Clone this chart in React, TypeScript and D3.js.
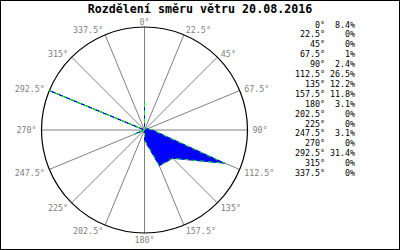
import React from "react";
import * as d3 from "d3";

const TITLE = "Rozdělení směru větru 20.08.2016";
const directions = [0, 22.5, 45, 67.5, 90, 112.5, 135, 157.5, 180, 202.5, 225, 247.5, 270, 292.5, 315, 337.5];
const directionLabels = ["0°", "22.5°", "45°", "67.5°", "90°", "112.5°", "135°", "157.5°", "180°", "202.5°", "225°", "247.5°", "270°", "292.5°", "315°", "337.5°"];
const values = [8.4, 0, 0, 1, 2.4, 26.5, 12.2, 11.8, 3.1, 0, 0, 3.1, 0, 31.4, 0, 0];
const valueLabels = ["8.4%", "0%", "0%", "1%", "2.4%", "26.5%", "12.2%", "11.8%", "3.1%", "0%", "0%", "3.1%", "0%", "31.4%", "0%", "0%"];

const W = 400;
const H = 250;
const CX = 144.5;
const CY = 130;
const R = 103;

export default function App() {
  const rad = (d: number) => (d * Math.PI) / 180;
  const r = d3.scaleLinear().domain([0, d3.max(values) as number]).range([0, R]);
  const line = d3
    .lineRadial<number>()
    .angle((_, i) => rad(directions[i]))
    .radius((v) => r(v))
    .curve(d3.curveLinearClosed);
  const path = line(values) || "";
  const legendY = d3.scalePoint<number>().domain(d3.range(directions.length)).range([24.5, 173]);
  const mono = "'DejaVu Sans Mono', 'Liberation Mono', monospace";

  return (
    <svg
      width={W}
      height={H}
      viewBox={`0 0 ${W} ${H}`}
      style={{ position: "absolute", left: 0, top: 0, background: "#fff" }}
    >
      <rect x={0.5} y={0.5} width={W - 1} height={H - 1} fill="#fff" stroke="#000" strokeWidth={1} />
      <text x={200} y={13} textAnchor="middle" fontFamily={mono} fontWeight="bold" fontSize={11.67} fill="#000">
        {TITLE}
      </text>
      <g transform={`translate(${CX},${CY})`}>
        {directions.map((d, i) => (
          <line
            key={"g" + i}
            x1={0}
            y1={0}
            x2={R * Math.sin(rad(d))}
            y2={-R * Math.cos(rad(d))}
            stroke="#808080"
            strokeWidth={1}
          />
        ))}
        <circle r={R} fill="none" stroke="#000" strokeWidth={1.2} />
        <path d={path} fill="#0000ff" stroke="#0000ff" strokeWidth={1} strokeLinejoin="miter" />
        <path d={path} fill="none" stroke="#00ff00" strokeWidth={1} strokeDasharray="4 4" />
        {directions.map((d, i) => {
          const s = Math.sin(rad(d));
          const c = Math.cos(rad(d));
          const anchor = s > 0.01 ? "start" : s < -0.01 ? "end" : "middle";
          const rr = R + 5;
          return (
            <text
              key={"l" + i}
              x={rr * s}
              y={-rr * c + (c < -0.01 ? 1.5 : 0) + 3}
              textAnchor={anchor}
              fontFamily={mono}
              fontSize={8.33}
              fill="#808080"
            >
              {directionLabels[i]}
            </text>
          );
        })}
      </g>
      {directions.map((d, i) => (
        <g key={"lg" + i}>
          <text x={325} y={(legendY(i) as number) + 3} textAnchor="end" fontFamily={mono} fontSize={8.33} fill="#000">
            {directionLabels[i]}
          </text>
          <text x={355} y={(legendY(i) as number) + 3} textAnchor="end" fontFamily={mono} fontSize={8.33} fill="#000">
            {valueLabels[i]}
          </text>
        </g>
      ))}
    </svg>
  );
}
